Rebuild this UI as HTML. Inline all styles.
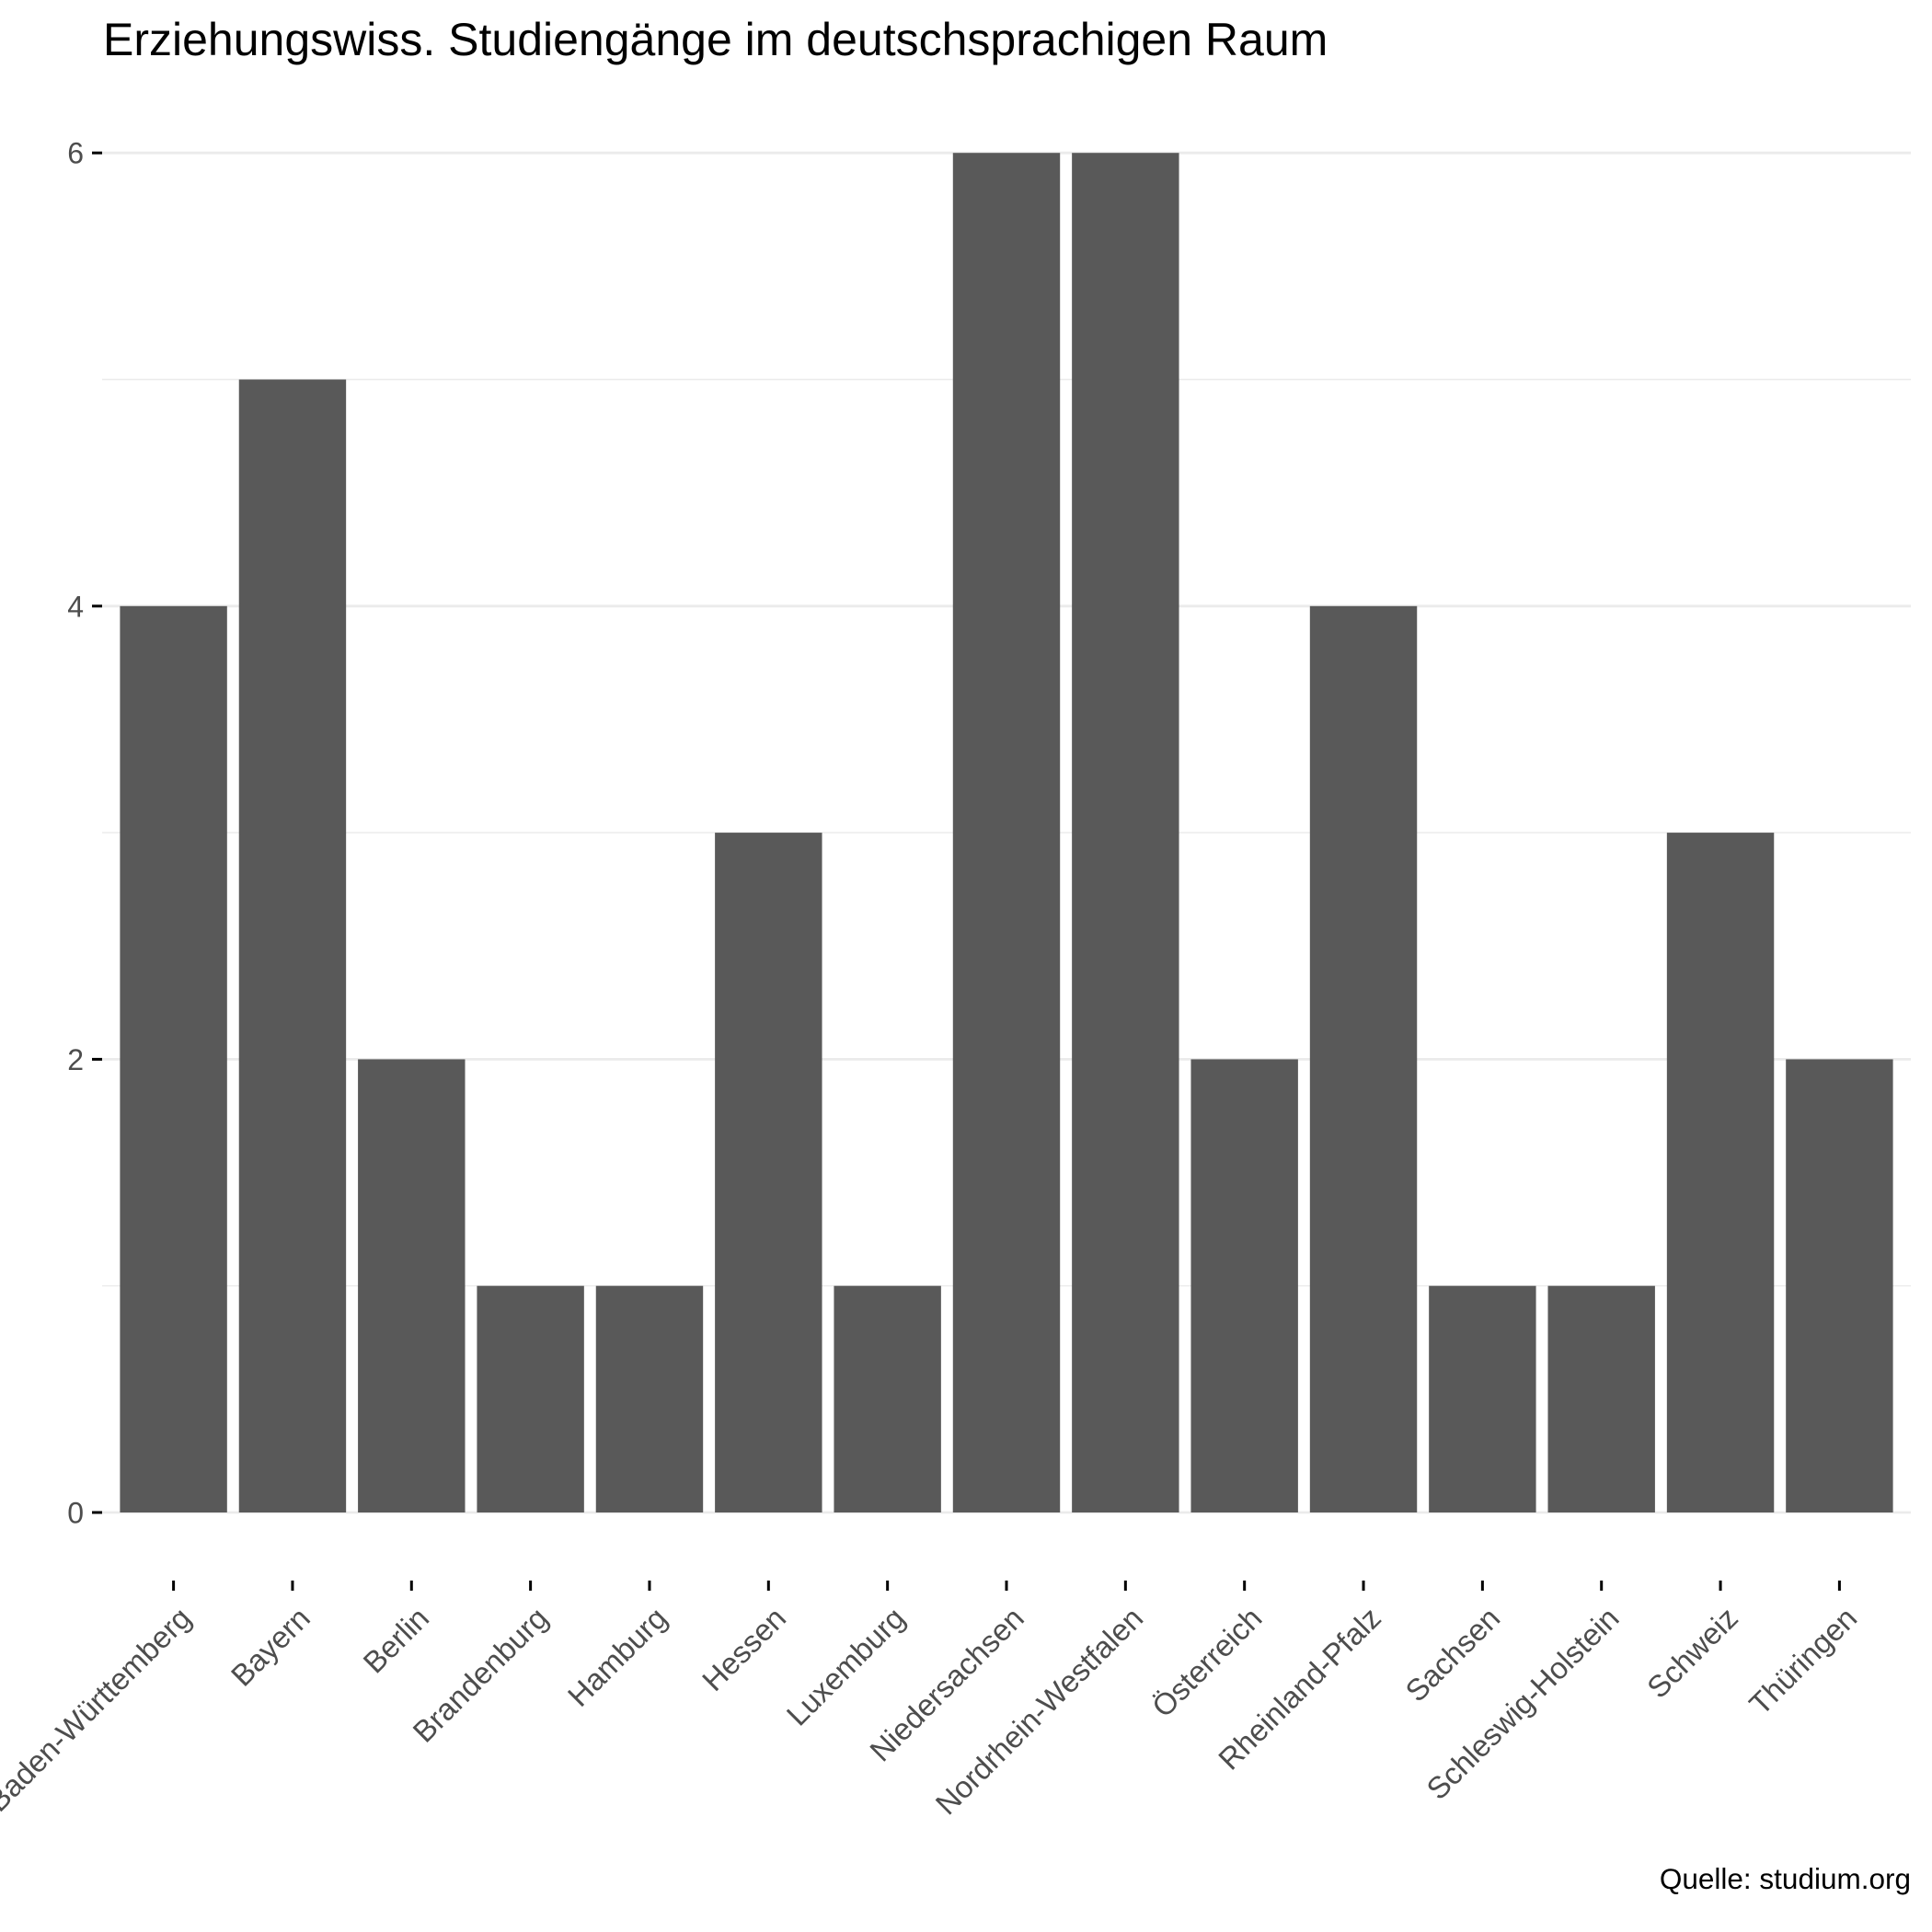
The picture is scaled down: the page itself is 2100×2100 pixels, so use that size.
<!DOCTYPE html>
<html><head><meta charset="utf-8"><style>
body{margin:0;background:#fff}
svg{display:block;font-family:"Liberation Sans",Arial,sans-serif}
</style></head><body>
<svg id="chart" width="2100" height="2100" viewBox="0 0 2100 2100" xmlns="http://www.w3.org/2000/svg">
<rect width="2100" height="2100" fill="#fff"/>
<text x="112" y="60" font-size="50" fill="#000">Erziehungswiss. Studiengänge im deutschsprachigen Raum</text>
<g id="grid"></g><g id="bars"></g><g id="axes"></g>
<text x="2077" y="2053" font-size="31.5" text-anchor="end" fill="#000">Quelle: studium.org</text>
</svg>
<script>
const categories = ["Baden-Württemberg","Bayern","Berlin","Brandenburg","Hamburg","Hessen","Luxemburg","Niedersachsen","Nordrhein-Westfalen","Österreich","Rheinland-Pfalz","Sachsen","Schleswig-Holstein","Schweiz","Thüringen"];
const values = [4,5,2,1,1,3,1,6,6,2,4,1,1,3,2];
const yTicks = [0,2,4,6];
const yMinor = [1,3,5];

const NS="http://www.w3.org/2000/svg";
const left=111, right=2077, y0=1644, unit=246.3;
const n=categories.length, step=(right-left)/(n+0.2);
const xc=i=>left+step*(0.6+i);
const ys=v=>y0-v*unit;
function mk(tag,attrs,parent){const e=document.createElementNS(NS,tag);for(const k in attrs)e.setAttribute(k,attrs[k]);parent.appendChild(e);return e;}
const grid=document.getElementById('grid'),bars=document.getElementById('bars'),axes=document.getElementById('axes');
yMinor.forEach(v=>{
  const l=mk('line',{x1:left,x2:right,y1:ys(v),y2:ys(v),stroke:'#ebebeb','stroke-width':1.4},grid);
  
  
});
yTicks.forEach(v=>{
  const l=mk('line',{x1:left,x2:right,y1:ys(v),y2:ys(v),stroke:'#ebebeb','stroke-width':2.8},grid);
  
  
  const t=mk('line',{x1:100,x2:111,y1:ys(v),y2:ys(v),stroke:'#000','stroke-width':3},axes);
  
  
  const tx=mk('text',{x:91,y:ys(v)+11.5,'font-size':32,'text-anchor':'end',fill:'#4d4d4d'},axes);
  tx.textContent=v;
  
  
});
const bw=step*0.9;
values.forEach((v,i)=>{
  const r=mk('rect',{x:xc(i)-bw/2,y:ys(v),width:bw,height:v*unit,fill:'#595959'},bars);
  
  
  const t=mk('line',{x1:xc(i),x2:xc(i),y1:1718,y2:1729,stroke:'#000','stroke-width':3},axes);
  
  
  const g=mk('g',{transform:`translate(${xc(i)+4},1744) rotate(-45)`},axes);
  const tx=mk('text',{x:0,y:24,'font-size':33,'text-anchor':'end',fill:'#4d4d4d'},g);
  tx.textContent=categories[i];
  
  
});
</script>
</body></html>
